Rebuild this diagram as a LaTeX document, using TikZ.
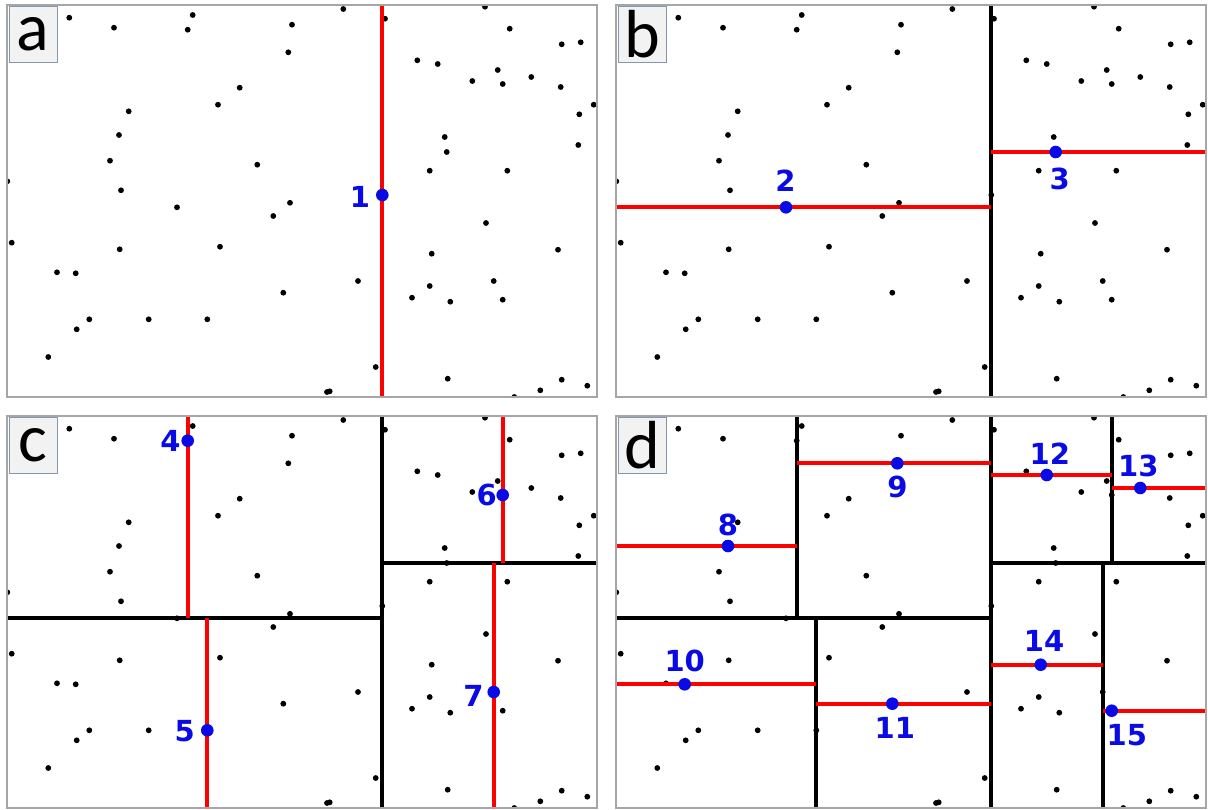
\documentclass[tikz,border=0pt]{standalone}
\usepackage{fontspec}
\newfontfamily\numfont{DejaVu Sans}
\newfontfamily\letfont{Carlito}
\definecolor{framegray}{HTML}{A6A6A6}
\definecolor{boxedge}{HTML}{8497B0}
\definecolor{boxfill}{HTML}{F2F2F2}
\definecolor{splitred}{HTML}{FF0000}
\definecolor{ptblue}{HTML}{0A0AE6}
\tikzset{
  panelframe/.style={draw=framegray, line width=1.8pt},
  letterbox/.style={draw=boxedge, fill=boxfill, line width=0.9pt, minimum width=48pt, minimum height=56pt, inner sep=0pt, font=\letfont\fontsize{68}{68}\selectfont, text=black},
  redline/.style={draw=splitred, line width=4pt},
  blackline/.style={draw=black, line width=4pt},
  numlabel/.style={text=ptblue, inner sep=0pt, font=\numfont\bfseries\fontsize{29}{29}\selectfont},
  bluedot/.style={fill=ptblue, draw=none},
  blackdot/.style={fill=black, draw=none}
}
\newcommand{\drawpoints}{%
  \foreach \px/\py in {69.3/17.7,114/27.7,192.7/15,187.7/29.7,292/24.7,288.3/52.3,239.7/87.7,218/104.7,128.7/111.3,119/135,110/160.7,257.3/164.7,7.3/181.3,121/190.3,290/202.8,343.3/9,385/18.7,485/6.7,509.7/28.7,561.7/44.3,580.7/42.3,417.3/60.3,437.7/64,497.7/70,472.3/81,502.7/84,531.3/77,560.7/87,593.7/104.7,579.3/114.3,444.7/137,578.3/145,446.7/152,429.7/170.7,507.3/170.7,382.3/195,177/207.3,273.3/216,11.7/242.7,119.7/249.3,220/246.7,57/272.3,75.7/273.3,283.3/292.7,89.3/319.3,148.7/319.3,207.3/319.3,76.7/329.3,48.3/357,486/223,431.7/253.7,558/249.7,358/281,429.7/286,493.7/281,412/297.7,450.3/301.7,502.7/299.7,375.7/367,447.7/378.7,327/392,329.7/391.3,561.7/379.7,540.3/390.3,587.3/385.7,514.3/397}
  {\fill[blackdot] (\px,\py) circle (2.9);}%
}
\begin{document}
\begin{tikzpicture}[x=1pt,y=-1pt]
\useasboundingbox (0,0) rectangle (1208,809);
\fill[white] (0,0) rectangle (1208,809);

% ---------- panel a ----------
\begin{scope}
  \clip (7,5) rectangle (597,397);
  \drawpoints
  \draw[redline] (382.3,5) -- (382.3,397);
  \fill[bluedot] (382.3,195) circle (6.3);
\end{scope}
\draw[panelframe] (7,5) rectangle (597,397);
\node[letterbox] (la) at (33,34) {a};
\node[numlabel] (n1) at (360,197) {1};

% ---------- panel b ----------
\begin{scope}[shift={(609,0)}]
  \begin{scope}
    \clip (7,5) rectangle (597,397);
    \drawpoints
    \draw[blackline] (382.3,5) -- (382.3,397);
    \draw[redline] (7,207.3) -- (382.3,207.3);
    \draw[redline] (382.3,152) -- (597,152);
    \fill[bluedot] (177,207.3) circle (6.3);
    \fill[bluedot] (446.7,152) circle (6.3);
  \end{scope}
  \draw[panelframe] (7,5) rectangle (597,397);
  \node[letterbox] (lb) at (33,34) {b};
  \node[numlabel] (n2) at (176.5,181) {2};
  \node[numlabel] (n3) at (450.7,178.7) {3};
\end{scope}

% ---------- panel c ----------
\begin{scope}[shift={(0,411)}]
  \begin{scope}
    \clip (7,5) rectangle (597,397);
    \drawpoints
    \draw[blackline] (382.3,5) -- (382.3,397);
    \draw[blackline] (7,207.3) -- (382.3,207.3);
    \draw[blackline] (382.3,152) -- (597,152);
    \draw[redline] (187.7,5) -- (187.7,207.3);
    \draw[redline] (207.3,207.3) -- (207.3,397);
    \draw[redline] (502.7,5) -- (502.7,152);
    \draw[redline] (493.7,152) -- (493.7,397);
    \fill[bluedot] (187.7,29.7) circle (6.3);
    \fill[bluedot] (207.3,319.3) circle (6.3);
    \fill[bluedot] (502.7,84) circle (6.3);
    \fill[bluedot] (493.7,281) circle (6.3);
  \end{scope}
  \draw[panelframe] (7,5) rectangle (597,397);
  \node[letterbox] (lc) at (33,34) {c};
  \node[numlabel] (n4) at (170.5,30.3) {4};
  \node[numlabel] (n5) at (184.7,320.3) {5};
  \node[numlabel] (n6) at (486.8,84.3) {6};
  \node[numlabel] (n7) at (473.5,284.8) {7};
\end{scope}

% ---------- panel d ----------
\begin{scope}[shift={(609,411)}]
  \begin{scope}
    \clip (7,5) rectangle (597,397);
    \drawpoints
    \draw[blackline] (382.3,5) -- (382.3,397);
    \draw[blackline] (7,207.3) -- (382.3,207.3);
    \draw[blackline] (382.3,152) -- (597,152);
    \draw[blackline] (187.7,5) -- (187.7,207.3);
    \draw[blackline] (207.3,207.3) -- (207.3,397);
    \draw[blackline] (502.7,5) -- (502.7,152);
    \draw[blackline] (493.7,152) -- (493.7,397);
    \draw[redline] (7,135) -- (187.7,135);
    \draw[redline] (187.7,52.3) -- (382.3,52.3);
    \draw[redline] (7,273.3) -- (207.3,273.3);
    \draw[redline] (207.3,292.7) -- (382.3,292.7);
    \draw[redline] (382.3,64) -- (502.7,64);
    \draw[redline] (502.7,77) -- (597,77);
    \draw[redline] (382.3,253.7) -- (493.7,253.7);
    \draw[redline] (493.7,299.7) -- (597,299.7);
    \fill[bluedot] (119,135) circle (6.3);
    \fill[bluedot] (288.3,52.3) circle (6.3);
    \fill[bluedot] (75.7,273.3) circle (6.3);
    \fill[bluedot] (283.3,292.7) circle (6.3);
    \fill[bluedot] (437.7,64) circle (6.3);
    \fill[bluedot] (531.3,77) circle (6.3);
    \fill[bluedot] (431.7,253.7) circle (6.3);
    \fill[bluedot] (502.7,299.7) circle (6.3);
  \end{scope}
  \draw[panelframe] (7,5) rectangle (597,397);
  \node[letterbox] (ld) at (33,34) {d};
  \node[numlabel] (n8) at (118.9,114.3) {8};
  \node[numlabel] (n9) at (288.5,75.7) {9};
  \node[numlabel] (n10) at (75.7,250.2) {10};
  \node[numlabel] (n11) at (285.9,317.3) {11};
  \node[numlabel] (n12) at (440.9,42.8) {12};
  \node[numlabel] (n13) at (529.3,54.8) {13};
  \node[numlabel] (n14) at (435,229.5) {14};
  \node[numlabel] (n15) at (517.8,324) {15};
\end{scope}
\end{tikzpicture}
\end{document}
